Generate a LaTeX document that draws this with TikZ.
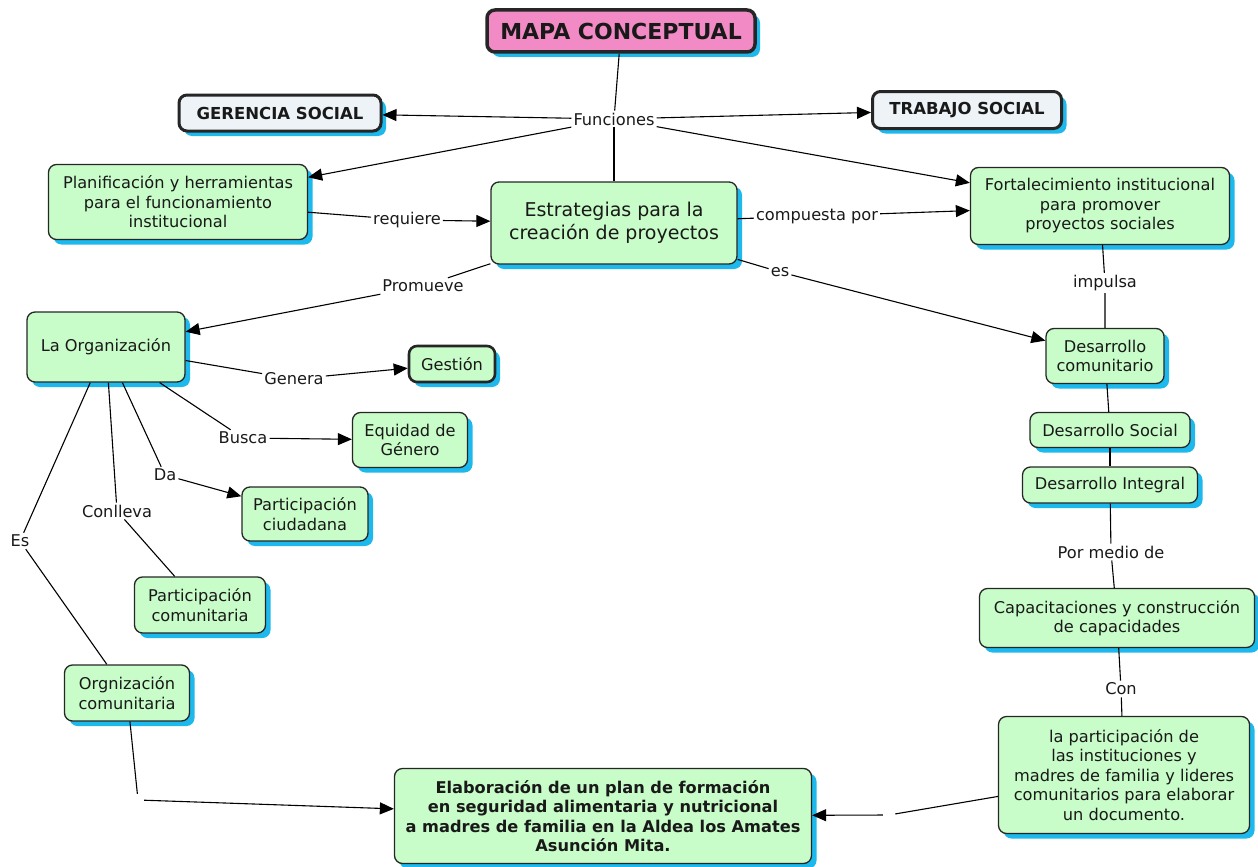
\documentclass[tikz,border=0pt]{standalone}
\usepackage{fontspec}
\setmainfont{DejaVu Sans}
\usetikzlibrary{arrows.meta,shadows}

\definecolor{nodegreen}{HTML}{C8FCC8}
\definecolor{titlepink}{HTML}{F28BC5}
\definecolor{topgrey}{HTML}{EDF3F6}
\definecolor{shadowblue}{HTML}{1DB8EC}

\begin{document}
\begin{tikzpicture}[x=1pt, y=-1pt,
        every node/.style = {align=center, text=black!90, font=\fontsize{16.2}{19.5}\selectfont},
        concept/.style = {shape=rectangle, rounded corners=8pt, draw=black!85,
            line width=1.3pt, fill=nodegreen, inner sep=3pt,
            drop shadow={shadow xshift=5pt, shadow yshift=-5pt, fill=shadowblue, opacity=1}},
        heading/.style = {concept, line width=3pt, fill=topgrey,
            font=\fontsize{16.5}{20}\selectfont\bfseries},
        linkph/.style = {inner sep=2pt},
        arr/.style = {-{Triangle[length=14pt, width=12pt]}, line width=1.1pt},
        ln/.style = {line width=1.1pt}]
    \useasboundingbox (0,0) rectangle (1258,867);

    % concepts
    \node[heading, fill=titlepink, line width=3.5pt, font=\fontsize{22}{26}\selectfont\bfseries,
        minimum width=268pt, minimum height=42pt] (mapa) at (621,31) {MAPA CONCEPTUAL};
    \node[heading, minimum width=202pt, minimum height=36pt] (gerencia) at (280,113) {GERENCIA SOCIAL};
    \node[heading, minimum width=189pt, minimum height=37pt] (trabajo) at (967,110) {TRABAJO SOCIAL};
    \node[concept, minimum width=259pt, minimum height=75pt] (plan) at (178,202)
        {Planificación y herramientas\\ para el funcionamiento\\ institucional};
    \node[concept, font=\fontsize{19}{23}\selectfont, minimum width=246pt, minimum height=82pt] (estr) at (614,223)
        {Estrategias para la\\ creación de proyectos};
    \node[concept, minimum width=259pt, minimum height=77pt] (fort) at (1100,206)
        {Fortalecimiento institucional\\ para promover\\ proyectos sociales};
    \node[concept, minimum width=158pt, minimum height=70pt] (laorg) at (106,347) {La Organización};
    \node[concept, minimum width=118pt, minimum height=55pt] (desc) at (1105,356) {Desarrollo\\ comunitario};
    \node[concept, line width=2.6pt, minimum width=86pt, minimum height=36pt] (gest) at (452,364) {Gestión};
    \node[concept, minimum width=115pt, minimum height=55pt] (equi) at (410,440) {Equidad de\\ Género};
    \node[concept, minimum width=126pt, minimum height=54pt] (partc) at (305,514) {Participación\\ ciudadana};
    \node[concept, minimum width=131pt, minimum height=56pt] (partcom) at (200,605) {Participación\\ comunitaria};
    \node[concept, minimum width=125pt, minimum height=56pt] (orgc) at (127,693) {Orgnización\\ comunitaria};
    \node[concept, minimum width=160pt, minimum height=35pt] (dsoc) at (1110,430) {Desarrollo Social};
    \node[concept, minimum width=175pt, minimum height=36pt] (dint) at (1110,485) {Desarrollo Integral};
    \node[concept, minimum width=275pt, minimum height=59pt] (capa) at (1117,618)
        {Capacitaciones y construcción\\ de capacidades};
    \node[concept, minimum width=251pt, minimum height=117pt] (lapart) at (1124,775)
        {la participación de\\ las instituciones y\\ madres de familia y lideres\\ comunitarios para elaborar\\ un documento.};
    \node[concept, font=\fontsize{16.2}{19.5}\selectfont\bfseries, minimum width=417pt, minimum height=95pt] (elab) at (603,816)
        {Elaboración de un plan de formación\\ en seguridad alimentaria y nutricional\\ a madres de familia en la Aldea los Amates\\ Asunción Mita.};

    % linking phrases
    \node[linkph] (func) at (614,119) {Funciones};
    \node[linkph] (req) at (407,220) {requiere};
    \node[linkph] (comp) at (817,216) {compuesta por};
    \node[linkph] (prom) at (423,286) {Promueve};
    \node[linkph] (es) at (780,272) {es};
    \node[linkph] (imp) at (1105,283) {impulsa};
    \node[linkph] (gen) at (294,379) {Genera};
    \node[linkph] (busca) at (243,438) {Busca};
    \node[linkph] (da) at (165,475) {Da};
    \node[linkph] (conl) at (117,511) {Conlleva};
    \node[linkph] (esl) at (20,541) {Es};
    \node[linkph] (pmd) at (1111,552) {Por medio de};
    \node[linkph] (con) at (1121,689) {Con};
    \node[linkph, minimum size=12pt] (lk1) at (138,800) {};
    \node[linkph, minimum size=12pt] (lk2) at (889,815) {};

    % connectors
    \draw[ln] (mapa) -- (func);
    \draw[ln] (func) -- (estr);
    \draw[arr] (func) -- (gerencia);
    \draw[arr] (func) -- (trabajo);
    \draw[arr] (func) -- (plan);
    \draw[arr] (func) -- (fort);
    \draw[ln] (plan) -- (req);   \draw[arr] (req) -- (estr);
    \draw[ln] (estr) -- (comp);  \draw[arr] (comp) -- (fort);
    \draw[ln] (estr) -- (prom);  \draw[arr] (prom) -- (laorg);
    \draw[ln] (estr) -- (es);    \draw[arr] (es) -- (desc);
    \draw[ln] (fort) -- (imp) -- (desc);
    \draw[ln] (desc) -- (dsoc);
    \draw[ln] (dsoc) -- (dint);
    \draw[ln] (dint) -- (pmd) -- (capa);
    \draw[ln] (capa) -- (con) -- (lapart);
    \draw[ln] (lapart) -- (lk2); \draw[arr] (lk2) -- (elab);
    \draw[ln] (laorg) -- (gen);  \draw[arr] (gen) -- (gest);
    \draw[ln] (laorg) -- (busca); \draw[arr] (busca) -- (equi);
    \draw[ln] (laorg) -- (da);   \draw[arr] (da) -- (partc);
    \draw[ln] (laorg) -- (conl) -- (partcom);
    \draw[ln] (laorg) -- (esl) -- (orgc);
    \draw[ln] (orgc) -- (lk1);   \draw[arr] (lk1) -- (elab);
\end{tikzpicture}
\end{document}
